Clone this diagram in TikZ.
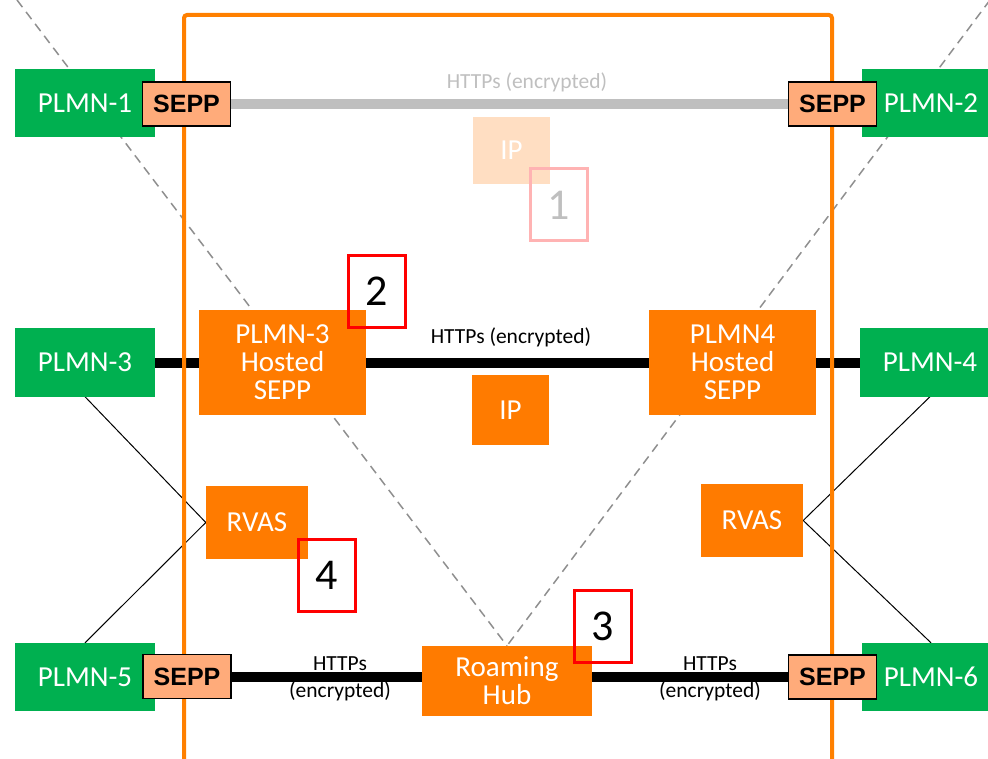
\documentclass[tikz,border=0pt]{standalone}
\usepackage{fontspec}
\setmainfont{Carlito}
\newfontfamily\seppfont{Liberation Sans}
\pgfdeclarelayer{bg}
\pgfdeclarelayer{conn}
\pgfdeclarelayer{frm}
\pgfsetlayers{bg,conn,frm,main}
\definecolor{plmngreen}{HTML}{00B050}
\definecolor{nforange}{HTML}{FF7B00}
\definecolor{frameorange}{HTML}{FF8000}
\definecolor{seppfill}{HTML}{FFAB7A}
\definecolor{fadedip}{HTML}{FFDEC2}
\definecolor{fadedred}{HTML}{FFB3B3}
\definecolor{numred}{HTML}{FF0000}
\definecolor{lightline}{HTML}{BFBFBF}
\definecolor{dashgray}{HTML}{8F8F8F}
\begin{document}
\begin{tikzpicture}[x=1pt,y=-1pt,
  box/.style={rectangle, inner sep=0pt, align=center, text=white,
    font=\fontsize{29}{28}\selectfont},
  plmn/.style={box, fill=plmngreen, minimum width=140pt, minimum height=68pt},
  nf/.style={box, fill=nforange},
  sepp/.style={rectangle, draw=black, line width=1.5pt, fill=seppfill,
    minimum width=88pt, minimum height=44pt, inner sep=0pt,
    font=\seppfont\bfseries\fontsize{25}{30}\selectfont},
  numbox/.style={rectangle, draw=numred, line width=3pt, minimum width=57pt,
    minimum height=72pt, inner sep=0pt, font=\fontsize{44}{50}\selectfont},
  lbl/.style={inner sep=0pt, align=center, font=\fontsize{21.5}{27}\selectfont},
  thick link/.style={line width=10pt, black},
  thin link/.style={line width=1pt, black},
  split line/.style={line width=1.5pt, dashgray, dash pattern=on 9pt off 6pt}
]
\useasboundingbox (0,0) rectangle (988,759);
\clip (0,0) rectangle (988,759);

% operator networks (drawn first so the SEPPs sit on top)
\node[plmn] (p1) at (85,103) {PLMN-1};
\node[plmn, minimum width=138pt] (p2) at (931,103) {PLMN-2};
\node[plmn] (p3) at (85,362.5) {PLMN-3};
\node[plmn] (p4) at (930,362.5) {PLMN-4};
\node[plmn] (p5) at (85,677) {PLMN-5};
\node[plmn, minimum width=138pt] (p6) at (931,677) {PLMN-6};

% top row: plain SEPP interconnect
\node[sepp] (s1) at (186.5,104) {SEPP};
\node[sepp] (s2) at (832.5,104) {SEPP};
\node[box, fill=fadedip, minimum width=77pt, minimum height=67pt] (ipa) at (511.5,150.5) {IP};
\node[lbl, text=lightline, anchor=base] (la) at (527,89) {HTTPs (encrypted)};

% middle row: hosted SEPPs
\node[nf, minimum width=167pt, minimum height=105pt] (h3) at (282.5,362.5) {PLMN-3\\Hosted\\SEPP};
\node[nf, minimum width=167pt, minimum height=105pt] (h4) at (732.5,362.5) {PLMN4\\Hosted\\SEPP};
\node[nf, minimum width=77pt, minimum height=70pt] (ipb) at (510.5,410) {IP};
\node[lbl, anchor=base] (lb) at (511,343) {HTTPs (encrypted)};

% RVAS
\node[nf, minimum width=102pt, minimum height=73pt] (rl) at (257,522.5) {RVAS};
\node[nf, minimum width=102pt, minimum height=73pt] (rr) at (752,520.5) {RVAS};

% bottom row: roaming hub
\node[sepp] (s5) at (187,676.5) {SEPP};
\node[nf, minimum width=170pt, minimum height=70pt] (hub) at (507,681) {Roaming\\Hub};
\node[sepp] (s6) at (832.5,677) {SEPP};
\node[lbl] (lc) at (340,679) {HTTPs\\(encrypted)};
\node[lbl] (ld) at (710,679) {HTTPs\\(encrypted)};

% numbered callouts
\node[numbox, draw=fadedred, text=lightline] (n1) at (559,205) {1};
\node[numbox] (n2) at (377,291.5) {2};
\node[numbox] (n3) at (602.5,626.5) {3};
\node[numbox] (n4) at (327,575) {4};

% diagonal split lines meeting at the hub
\coordinate (tl) at (17,0);
\coordinate (tr) at (990,0);
\begin{pgfonlayer}{bg}
  \draw[split line] (tl) -- (hub.north);
  \draw[split line] (tr) -- (hub.north);
\end{pgfonlayer}

% connectors
\begin{pgfonlayer}{conn}
  \draw[line width=10pt, lightline] (s1.east) -- (s1.east -| s2.west);
  \draw[thick link] (p3.east) -- (h3.west);
  \draw[thick link] (h3.east) -- (h4.west);
  \draw[thick link] (h4.east) -- (p4.west);
  \draw[thick link] (s5.east) -- (s5.east -| hub.west);
  \draw[thick link] (s6.west -| hub.east) -- (s6.west);
  \draw[thin link] (p3.south) -- (rl.west) -- (p5.north);
  \draw[thin link] (p4.south) -- (rr.east) -- (p6.north);
\end{pgfonlayer}

% interconnect domain frame
\coordinate (fbl) at (184,775);
\coordinate (ftl) at (184,15);
\coordinate (ftr) at (832,15);
\coordinate (fbr) at (832,775);
\begin{pgfonlayer}{frm}
  \draw[frameorange, line width=4pt, rounded corners=3pt] (fbl) -- (ftl) -- (ftr) -- (fbr);
\end{pgfonlayer}
\end{tikzpicture}
\end{document}
